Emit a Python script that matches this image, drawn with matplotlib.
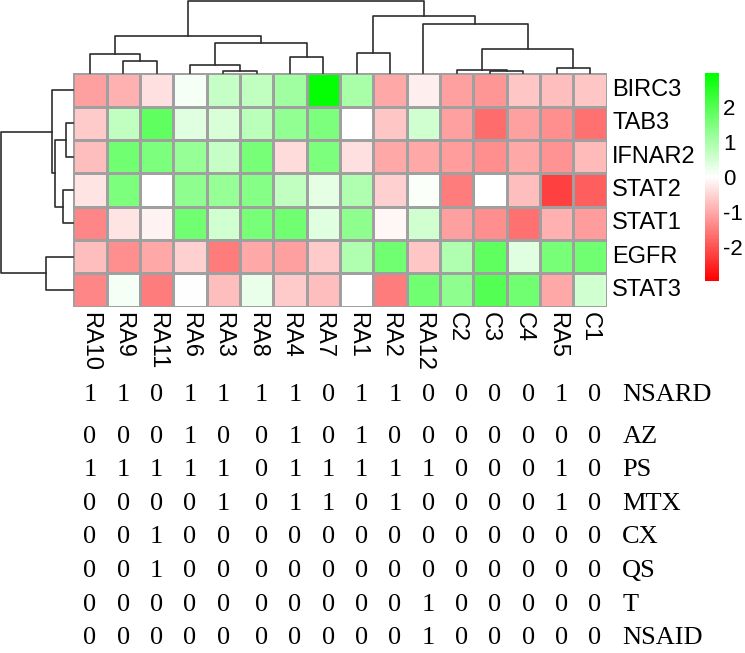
import matplotlib
matplotlib.use("Agg")
import matplotlib.pyplot as plt
import numpy as np
from matplotlib.colors import LinearSegmentedColormap

plt.rcParams['axes.unicode_minus'] = False

# --- data ---
genes = ['BIRC3', 'TAB3', 'IFNAR2', 'STAT2', 'STAT1', 'EGFR', 'STAT3']
samples = ['RA10', 'RA9', 'RA11', 'RA6', 'RA3', 'RA8', 'RA4', 'RA7',
           'RA1', 'RA2', 'RA12', 'C2', 'C3', 'C4', 'RA5', 'C1']

birc3 = [-1.1, -0.9, -0.35, 0.1, 0.65, 0.73, 1.1, 2.9, 1.0, -1.0, -0.2, -1.1, -1.2, -0.65, -0.75, -0.65]
tab3 = [-0.6, 0.73, 1.85, 0.35, 0.45, 0.8, 1.25, 1.5, 0.0, -0.65, 0.55, -1.1, -1.7, -1.1, -1.3, -1.65]
ifnar2 = [-0.75, 1.65, 1.5, 1.2, 0.65, 1.55, -0.4, 1.5, -0.35, -1.0, -1.0, -1.15, -1.3, -1.0, -1.25, -0.8]
stat2 = [-0.3, 1.5, 0.0, 1.3, 1.2, 1.4, 0.73, 0.3, 0.9, -0.55, 0.05, -1.5, 0.0, -0.75, -2.2, -1.85]
stat1 = [-1.4, -0.3, -0.15, 1.65, 0.55, 1.55, 1.65, 0.35, 1.3, -0.1, 0.55, -1.1, -1.3, -1.65, -0.9, -1.15]
egfr = [-0.75, -1.3, -1.0, -0.55, -1.5, -1.0, -1.1, -0.6, 0.9, 1.65, -0.65, 0.9, 1.85, 0.35, 1.55, 1.65]
stat3 = [-1.4, 0.1, -1.5, -0.02, -0.75, 0.25, -0.6, -0.75, 0.0, -1.5, 1.65, 1.3, 2.0, 1.65, -1.0, 0.55]

# dendrogram merges: (child a, child b, height); leaves in display order,
# merged clusters numbered n, n+1, ...
col_merges = [(4, 5, 2.7), (12, 13, 2.7), (11, 17, 3.7), (14, 15, 5.0), (3, 16, 8.0),
              (1, 2, 12.3), (6, 7, 16.3), (0, 21, 19.0), (8, 9, 20.3), (18, 19, 24.0),
              (20, 22, 30.3), (23, 26, 37.7), (10, 25, 49.7), (24, 28, 57.0), (27, 29, 72.5)]
row_merges = [(1, 2, 7.4), (3, 4, 10.0), (7, 8, 18.4), (0, 9, 21.0), (5, 6, 27.7), (10, 11, 72.5)]

drugs = ['NSARD', 'AZ', 'PS', 'MTX', 'CX', 'QS', 'T', 'NSAID']
nsard = [1, 1, 0, 1, 1, 1, 1, 0, 1, 1, 0, 0, 0, 0, 1, 0]
az = [0, 0, 0, 1, 0, 0, 1, 0, 1, 0, 0, 0, 0, 0, 0, 0]
ps = [1, 1, 1, 1, 1, 0, 1, 1, 1, 1, 1, 0, 0, 0, 1, 0]
mtx = [0, 0, 0, 0, 1, 0, 1, 1, 0, 1, 0, 0, 0, 0, 1, 0]
cx = [0, 0, 1, 0, 0, 0, 0, 0, 0, 0, 0, 0, 0, 0, 0, 0]
qs = [0, 0, 1, 0, 0, 0, 0, 0, 0, 0, 0, 0, 0, 0, 0, 0]
t_col = [0, 0, 0, 0, 0, 0, 0, 0, 0, 0, 1, 0, 0, 0, 0, 0]
nsaid = [0, 0, 0, 0, 0, 0, 0, 0, 0, 0, 1, 0, 0, 0, 0, 0]


def dendro_segments(merges, n):
    pos = {i: i + 0.5 for i in range(n)}
    hgt = {i: 0.0 for i in range(n)}
    segs = []
    for k, (a, b, h) in enumerate(merges):
        segs.append(([pos[a], pos[a], pos[b], pos[b]], [hgt[a], h, h, hgt[b]]))
        pos[n + k] = (pos[a] + pos[b]) / 2
        hgt[n + k] = h
    return segs


W, H = 745, 653
fig = plt.figure(figsize=(W / 100, H / 100), dpi=100)

def px_axes(x0, y0, x1, y1):
    # axes from pixel box (top-left origin)
    return fig.add_axes([x0 / W, 1 - y1 / H, (x1 - x0) / W, (y1 - y0) / H])

sans = 'Liberation Sans'
serif = 'Liberation Serif'
hm_l, hm_r, hm_t, hm_b = 73.3, 606.7, 73.3, 306.5

# heatmap
values = np.array([birc3, tab3, ifnar2, stat2, stat1, egfr, stat3])
cmap = LinearSegmentedColormap.from_list('rwg', ['#FF0000', '#FFFFFF', '#00FF00'])
ax = px_axes(hm_l, hm_t, hm_r, hm_b)
mesh = ax.pcolormesh(values, cmap=cmap, vmin=-2.95, vmax=2.95,
                     edgecolors='#a0a0a0', linewidth=0.8)
ax.set_xlim(0, len(samples))
ax.set_ylim(len(genes), 0)
ax.set_xticks(np.arange(len(samples)) + 0.5)
ax.set_xticklabels(samples, rotation=-90, fontsize=17, family=sans)
ax.set_yticks(np.arange(len(genes)) + 0.5)
ax.set_yticklabels(genes, fontsize=17, family=sans, va='center')
ax.yaxis.tick_right()
ax.tick_params(axis='x', length=0, pad=4)
ax.tick_params(axis='y', length=0, pad=4)
for s in ax.spines.values():
    s.set_visible(False)

# column dendrogram
axc = px_axes(hm_l, 0, hm_r, hm_t)
for xs, ys in dendro_segments(col_merges, len(samples)):
    axc.plot(xs, ys, color='#2e2e2e', lw=1.2, clip_on=False)
axc.set_xlim(0, len(samples))
axc.set_ylim(0, 73.3)
axc.axis('off')

# row dendrogram
axr = px_axes(0, hm_t, hm_l, hm_b)
for xs, ys in dendro_segments(row_merges, len(genes)):
    axr.plot(ys, xs, color='#2e2e2e', lw=1.2, clip_on=False)
axr.set_ylim(len(genes), 0)
axr.set_xlim(73.3, 0)
axr.axis('off')

# colour legend
cax = px_axes(705, 73.3, 719, 280.7)
cb = fig.colorbar(mesh, cax=cax, ticks=[-2, -1, 0, 1, 2])
cb.outline.set_visible(False)
cax.tick_params(length=0, pad=3, labelsize=16)
for lab in cax.get_yticklabels():
    lab.set_family(sans)

# treatment table
table = [nsard, az, ps, mtx, cx, qs, t_col, nsaid]
axt = px_axes(hm_l, 370, hm_r, H)
axt.set_xlim(0, len(samples))
axt.set_ylim(7.49, -0.935)
axt.axis('off')
for r, (name, row) in enumerate(zip(drugs, table)):
    y = r - 0.2 if r == 0 else r + 0.05
    for c, v in enumerate(row):
        x = c + 0.5 + (0.15 if c >= 5 else 0.0)
        axt.text(x, y, str(v), ha='center', va='center', fontsize=19,
                 family=serif, clip_on=False)
    axt.text(16.47, y, name, ha='left', va='center', fontsize=19,
             family=serif, clip_on=False)

fig.savefig('out.png', dpi=100)
